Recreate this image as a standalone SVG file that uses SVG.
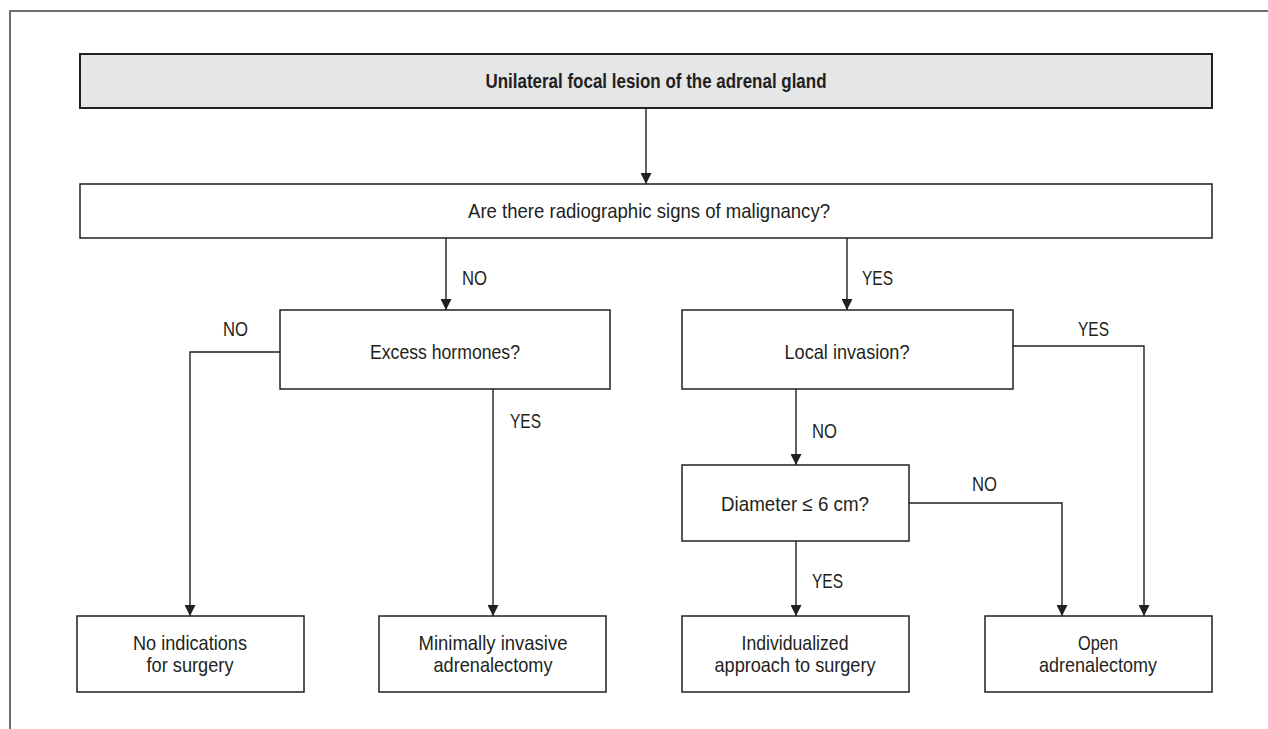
<svg xmlns="http://www.w3.org/2000/svg" width="1268" height="729" viewBox="0 0 1268 729">
<style>
.frame{fill:none;stroke:#6f6f6f;stroke-width:2}
.box{fill:#ffffff;stroke:#231f20;stroke-width:1.5}
.title{fill:#e5e6e8;stroke:#231f20;stroke-width:2}
.t{font-family:"Liberation Sans",Arial,sans-serif;font-size:21px;fill:#231f20}
.b{font-weight:bold}
.c{text-anchor:middle}
.conn path{fill:none;stroke:#231f20;stroke-width:1.4}
</style>
<defs>
<marker id="arr" viewBox="0 0 11 11" refX="11" refY="5.5" markerWidth="11" markerHeight="11" markerUnits="userSpaceOnUse" orient="auto">
<path d="M0,0 L11,5.5 L0,11 z" fill="#231f20"/>
</marker>
</defs>
<rect width="1268" height="729" fill="#ffffff"/>
<path class="frame" d="M10,729 V11 H1268"/>
<g class="conn">
<path d="M646,108 V184" marker-end="url(#arr)"/>
<path d="M446,238 V310" marker-end="url(#arr)"/>
<path d="M847,238 V310" marker-end="url(#arr)"/>
<path d="M280,352 H190 V616" marker-end="url(#arr)"/>
<path d="M493,389 V616" marker-end="url(#arr)"/>
<path d="M1013,346 H1144 V616" marker-end="url(#arr)"/>
<path d="M796,389 V465" marker-end="url(#arr)"/>
<path d="M796,541 V616" marker-end="url(#arr)"/>
<path d="M909,503 H1062 V616" marker-end="url(#arr)"/>
<text class="t" x="462" y="285" textLength="25" lengthAdjust="spacingAndGlyphs">NO</text>
<text class="t" x="862" y="285" textLength="31" lengthAdjust="spacingAndGlyphs">YES</text>
<text class="t" x="223" y="336" textLength="25" lengthAdjust="spacingAndGlyphs">NO</text>
<text class="t" x="1078" y="336" textLength="31" lengthAdjust="spacingAndGlyphs">YES</text>
<text class="t" x="510" y="428" textLength="31" lengthAdjust="spacingAndGlyphs">YES</text>
<text class="t" x="812" y="438" textLength="25" lengthAdjust="spacingAndGlyphs">NO</text>
<text class="t" x="972" y="491" textLength="25" lengthAdjust="spacingAndGlyphs">NO</text>
<text class="t" x="812" y="588" textLength="31" lengthAdjust="spacingAndGlyphs">YES</text>
</g>
<g id="n-title">
<rect class="title" x="80" y="54" width="1132" height="54"/>
<text class="t b c" x="656" y="88" textLength="341" lengthAdjust="spacingAndGlyphs">Unilateral focal lesion of the adrenal gland</text>
</g>
<g id="n-question">
<rect class="box" x="80" y="184" width="1132" height="54"/>
<text class="t c" x="649" y="218" textLength="362" lengthAdjust="spacingAndGlyphs">Are there radiographic signs of malignancy?</text>
</g>
<g id="n-excess">
<rect class="box" x="280" y="310" width="330" height="79"/>
<text class="t c" x="445" y="359" textLength="150" lengthAdjust="spacingAndGlyphs">Excess hormones?</text>
</g>
<g id="n-local">
<rect class="box" x="682" y="310" width="331" height="79"/>
<text class="t c" x="847" y="359" textLength="125" lengthAdjust="spacingAndGlyphs">Local invasion?</text>
</g>
<g id="n-diameter">
<rect class="box" x="682" y="465" width="227" height="76"/>
<text class="t c" x="795" y="511" textLength="148" lengthAdjust="spacingAndGlyphs">Diameter ≤ 6 cm?</text>
</g>
<g id="n-noind">
<rect class="box" x="77" y="616" width="227" height="76"/>
<text class="t c" x="190" y="650" textLength="114" lengthAdjust="spacingAndGlyphs">No indications</text>
<text class="t c" x="190" y="672" textLength="87" lengthAdjust="spacingAndGlyphs">for surgery</text>
</g>
<g id="n-mini">
<rect class="box" x="379" y="616" width="227" height="76"/>
<text class="t c" x="493" y="650" textLength="149" lengthAdjust="spacingAndGlyphs">Minimally invasive</text>
<text class="t c" x="493" y="672" textLength="119" lengthAdjust="spacingAndGlyphs">adrenalectomy</text>
</g>
<g id="n-indiv">
<rect class="box" x="682" y="616" width="227" height="76"/>
<text class="t c" x="795" y="650" textLength="107" lengthAdjust="spacingAndGlyphs">Individualized</text>
<text class="t c" x="795" y="672" textLength="161" lengthAdjust="spacingAndGlyphs">approach to surgery</text>
</g>
<g id="n-open">
<rect class="box" x="985" y="616" width="227" height="76"/>
<text class="t c" x="1098" y="650" textLength="40" lengthAdjust="spacingAndGlyphs">Open</text>
<text class="t c" x="1098" y="672" textLength="118" lengthAdjust="spacingAndGlyphs">adrenalectomy</text>
</g>
</svg>
